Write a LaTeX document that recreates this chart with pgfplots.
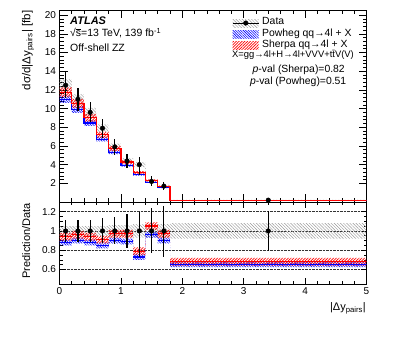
\documentclass[border=0pt]{standalone}
\usepackage{fontspec}
\setmainfont{Liberation Sans}
\usepackage{pgfplots}
\pgfplotsset{compat=1.18}
\usepgfplotslibrary{fillbetween}
\usetikzlibrary{patterns.meta}

\tikzset{
  redband/.style={draw=none, pattern={Lines[angle=45,distance=2pt,line width=0.7pt]}, pattern color=red},
  blueband/.style={draw=none, pattern={Lines[angle=-45,distance=1.8pt,line width=0.6pt]}, pattern color=blue},
  grayband/.style={draw=none, pattern={Lines[angle=-45,distance=2.2pt,line width=0.45pt]}, pattern color=gray!80},
}
\pgfplotsset{
  atlas/.style={
    scale only axis, width=307pt, xmin=0, xmax=5,
    tick align=inside,
    axis line style={line width=0.7pt},
    every tick/.style={black, line width=0.6pt},
    minor tick num=4,
    xtick={0,1,2,3,4,5},
    tick label style={font=\fontsize{10}{12}\selectfont},
    /pgf/number format/assume math mode=true,
  },
}

\begin{document}
\begin{tikzpicture}

% ---------------- main panel ----------------
\begin{axis}[atlas, at={(59.5pt,135pt)}, anchor=south west, height=191.5pt,
  ymin=0, ymax=20.5, ytick={2,4,...,20}, xticklabels={},
  major tick length=8pt, minor tick length=4pt,
  legend style={at={(rel axis cs:0.562,0.965)}, anchor=north west, draw=none, fill=none,
    inner sep=0pt, row sep=0pt, font=\fontsize{10.4}{12}\selectfont,
    nodes={inner sep=0pt, text height=7.6pt, text depth=3.7pt},
    /tikz/every odd column/.append style={column sep=3pt}},
  legend cell align=left]

\addlegendimage{legend image code/.code={
  \fill[grayband] (0pt,-4pt) rectangle (26pt,4pt);
  \draw[line width=1pt] (0pt,0pt) -- (26pt,0pt);
  \fill (13pt,0pt) circle (2.3pt);}}
\addlegendentry{Data}
\addlegendimage{legend image code/.code={\fill[blueband] (0pt,-4pt) rectangle (26pt,4pt);}}
\addlegendentry{Powheg qq→4l + X}
\addlegendimage{legend image code/.code={\fill[redband] (0pt,-4pt) rectangle (26pt,4pt);}}
\addlegendentry{Sherpa qq→4l + X}

% data systematic band
\addplot[forget plot, name path=gu, draw=none, const plot] coordinates {
 (0,13.13) (0.2,11.55) (0.4,10.08) (0.6,8.30) (0.8,6.25) (1.0,4.66) (1.2,4.28) (1.4,2.35) (1.6,1.82) (1.8,0.216) (5,0.216)};
\addplot[forget plot, name path=gl, draw=none, const plot] coordinates {
 (0,11.88) (0.2,10.45) (0.4,9.12) (0.6,7.51) (0.8,5.55) (1.0,4.14) (1.2,3.72) (1.4,2.05) (1.6,1.58) (1.8,0.184) (5,0.184)};
\addplot[forget plot, grayband] fill between[of=gu and gl];

% Powheg band
\addplot[forget plot, name path=bu, draw=none, const plot] coordinates {
 (0,11.39) (0.2,10.25) (0.4,8.75) (0.6,6.96) (0.8,5.50) (1.0,4.06) (1.2,3.02) (1.4,2.18) (1.6,1.58) (1.8,0.136) (5,0.136)};
\addplot[forget plot, name path=bl, draw=none, const plot] coordinates {
 (0,10.62) (0.2,9.55) (0.4,8.15) (0.6,6.48) (0.8,5.12) (1.0,3.78) (1.2,2.82) (1.4,2.04) (1.6,1.48) (1.8,0.126) (5,0.126)};
\addplot[forget plot, blueband] fill between[of=bu and bl];

% Sherpa band
\addplot[forget plot, name path=ru, draw=none, const plot] coordinates {
 (0,12.28) (0.2,11.04) (0.4,9.43) (0.6,7.51) (0.8,5.98) (1.0,4.46) (1.2,3.30) (1.4,2.41) (1.6,1.72) (1.8,0.142) (5,0.142)};
\addplot[forget plot, name path=rl, draw=none, const plot] coordinates {
 (0,11.22) (0.2,10.08) (0.4,8.61) (0.6,6.87) (0.8,5.46) (1.0,4.08) (1.2,3.02) (1.4,2.21) (1.6,1.58) (1.8,0.130) (5,0.130)};
\addplot[forget plot, redband] fill between[of=ru and rl];

% central predictions
\addplot[forget plot, const plot, blue, line width=1.3pt] coordinates {
 (0,11.0) (0.2,9.9) (0.4,8.45) (0.6,6.72) (0.8,5.31) (1.0,3.92) (1.2,2.92) (1.4,2.11) (1.6,1.53) (1.8,0.131) (5,0.131)};
\addplot[forget plot, const plot, red, line width=1.3pt] coordinates {
 (0,11.75) (0.2,10.56) (0.4,9.02) (0.6,7.19) (0.8,5.72) (1.0,4.27) (1.2,3.16) (1.4,2.31) (1.6,1.65) (1.8,0.136) (5,0.136)};

% data
\addplot[forget plot, only marks, mark=*, mark size=2.3pt, black,
  error bars/.cd, y dir=both, y explicit, error mark=none,
  error bar style={line width=1.2pt, black}] coordinates {
 (0.1,12.5) +- (0,1.38)
 (0.3,11.0) +- (0,1.21)
 (0.5,9.6) +- (0,1.06)
 (0.7,7.9) +- (0,1.03)
 (0.9,5.9) +- (0,0.83)
 (1.1,4.4) +- (0,0.79)
 (1.3,4.0) += (0,0.80) -= (0,1.08)
 (1.5,2.2) += (0,0.53) -= (0,0.51)
 (1.7,1.7) += (0,0.44) -= (0,0.46)
 (3.4,0.2) +- (0,0.04)};
\end{axis}

% ---------------- ratio panel ----------------
\begin{axis}[atlas, at={(59.5pt,53pt)}, anchor=south west, height=82pt,
  ymin=0.45, ymax=1.3, ytick={0.6,0.8,1,1.2}, minor y tick num=3,
  ymajorgrids, major grid style={densely dotted, black!80, line width=0.5pt},
  major tick length=6pt, minor tick length=3pt]

\addplot[forget plot, name path=gu, draw=none, const plot] coordinates {
 (0,1.05) (0.2,1.05) (0.4,1.05) (0.6,1.05) (0.8,1.06) (1.0,1.06) (1.2,1.07) (1.4,1.07) (1.6,1.07) (1.8,1.08) (5,1.08)};
\addplot[forget plot, name path=gl, draw=none, const plot] coordinates {
 (0,0.95) (0.2,0.95) (0.4,0.95) (0.6,0.95) (0.8,0.94) (1.0,0.94) (1.2,0.93) (1.4,0.93) (1.6,0.93) (1.8,0.92) (5,0.92)};
\addplot[forget plot, grayband] fill between[of=gu and gl];

\addplot[forget plot, name path=bu, draw=none, const plot] coordinates {
 (0,0.91) (0.2,0.93) (0.4,0.91) (0.6,0.88) (0.8,0.93) (1.0,0.92) (1.2,0.76) (1.4,0.99) (1.6,0.93) (1.8,0.685) (5,0.685)};
\addplot[forget plot, name path=bl, draw=none, const plot] coordinates {
 (0,0.85) (0.2,0.87) (0.4,0.85) (0.6,0.82) (0.8,0.87) (1.0,0.86) (1.2,0.70) (1.4,0.93) (1.6,0.87) (1.8,0.625) (5,0.625)};
\addplot[forget plot, blueband] fill between[of=bu and bl];

\addplot[forget plot, name path=ru, draw=none, const plot] coordinates {
 (0,0.98) (0.2,1.00) (0.4,0.98) (0.6,0.95) (0.8,1.01) (1.0,1.01) (1.2,0.83) (1.4,1.09) (1.6,1.01) (1.8,0.72) (5,0.72)};
\addplot[forget plot, name path=rl, draw=none, const plot] coordinates {
 (0,0.90) (0.2,0.92) (0.4,0.90) (0.6,0.87) (0.8,0.93) (1.0,0.93) (1.2,0.75) (1.4,1.01) (1.6,0.93) (1.8,0.64) (5,0.64)};
\addplot[forget plot, redband] fill between[of=ru and rl];

\addplot[forget plot, jump mark left, blue, line width=1.3pt] coordinates {
 (0,0.88) (0.2,0.90) (0.4,0.88) (0.6,0.85) (0.8,0.90) (1.0,0.89) (1.2,0.73) (1.4,0.96) (1.6,0.90) (1.8,0.655) (5,0.655)};
\addplot[forget plot, jump mark left, red, line width=1.3pt] coordinates {
 (0,0.94) (0.2,0.96) (0.4,0.94) (0.6,0.91) (0.8,0.97) (1.0,0.97) (1.2,0.79) (1.4,1.05) (1.6,0.97) (1.8,0.68) (5,0.68)};

\addplot[forget plot, only marks, mark=*, mark size=2.3pt, black,
  error bars/.cd, y dir=both, y explicit, error mark=none,
  error bar style={line width=1.2pt, black}] coordinates {
 (0.1,1) +- (0,0.11)
 (0.3,1) +- (0,0.11)
 (0.5,1) +- (0,0.11)
 (0.7,1) +- (0,0.13)
 (0.9,1) +- (0,0.14)
 (1.1,1) +- (0,0.18)
 (1.3,1) += (0,0.20) -= (0,0.27)
 (1.5,1) += (0,0.24) -= (0,0.23)
 (1.7,1) += (0,0.26) -= (0,0.27)
 (3.4,1) +- (0,0.21)};
\end{axis}

% ---------------- texts ----------------
\node[anchor=base west, inner sep=0pt, font=\fontsize{11}{13}\selectfont\bfseries\itshape] at (70pt,312pt) {ATLAS};
\node[anchor=base west, inner sep=0pt, font=\fontsize{10.5}{12}\selectfont] at (70pt,300pt)
  {√\makebox[0pt][l]{\rule[7.3pt]{5.2pt}{0.45pt}}s=13 TeV, 139 fb\textsuperscript{-1}};
\node[anchor=base west, inner sep=0pt, font=\fontsize{10.5}{12}\selectfont] at (70pt,285.5pt) {Off-shell ZZ};

\node[anchor=base east, inner sep=0pt, font=\fontsize{9.4}{11}\selectfont] at (354pt,279.3pt) {X=gg→4l+H→4l+VVV+t\=tV(V)};
\node[anchor=base east, inner sep=0pt, font=\fontsize{10.4}{12}\selectfont] at (345pt,264.3pt) {\textit{p}-val (Sherpa)=0.82};
\node[anchor=base east, inner sep=0pt, font=\fontsize{10.4}{12}\selectfont] at (346.5pt,252.3pt) {\textit{p}-val (Powheg)=0.51};

\node[rotate=90, anchor=base east, inner sep=0pt, font=\fontsize{11.5}{13}\selectfont] at (30.5pt,326.5pt)
  {dσ/d|Δy\textsubscript{pairs}| [fb]};
\node[rotate=90, anchor=base east, inner sep=0pt, font=\fontsize{11}{13}\selectfont] at (30pt,134pt)
  {Prediction/Data};
\node[anchor=base east, inner sep=0pt, font=\fontsize{11}{13}\selectfont] at (366pt,26.3pt)
  {|Δy\textsubscript{pairs}|};

\pgfresetboundingbox
\useasboundingbox (0,0) rectangle (399pt,337pt);
\end{tikzpicture}
\end{document}
